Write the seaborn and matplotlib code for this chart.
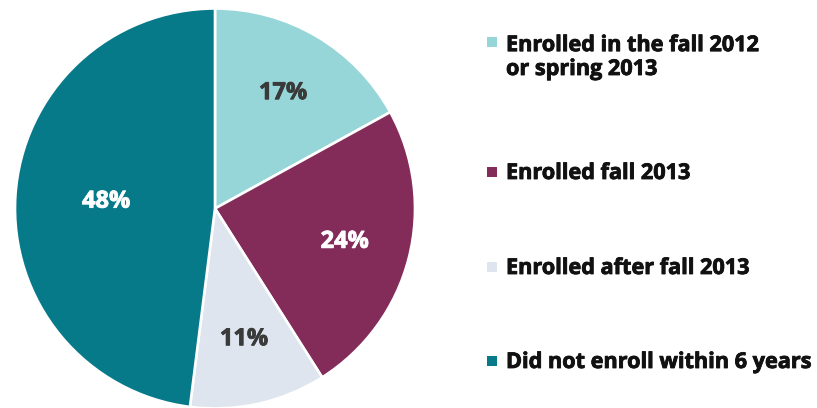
import matplotlib
matplotlib.use("Agg")
import matplotlib.pyplot as plt
from matplotlib.patches import Rectangle
import matplotlib.patheffects as pe
import seaborn as sns

# Enrollment outcomes (percent of students)
categories = [
    "Enrolled in the fall 2012\nor spring 2013",
    "Enrolled fall 2013",
    "Enrolled after fall 2013",
    "Did not enroll within 6 years",
]
shares = [17, 24, 11, 48]
slice_colors = ["#96d6d9", "#832c5a", "#dfe5ee", "#077a8a"]
label_colors = ["#3a3a3a", "#ffffff", "#3a3a3a", "#ffffff"]

sns.set_theme(style="white")
plt.rcParams["font.family"] = ["Open Sans", "DejaVu Sans"]

W, H = 817, 408
fig = plt.figure(figsize=(W / 100, H / 100), dpi=100)
fig.patch.set_facecolor("white")

# pie occupies a 400 px square centred at (215, 208.5) px from the top-left
R = 200
cx, cy = 215, H - 208.5
ax = fig.add_axes([(cx - R) / W, (cy - R) / H, 2 * R / W, 2 * R / H])

palette = sns.color_palette(slice_colors)
wedges, texts, autotexts = ax.pie(
    shares,
    colors=palette,
    startangle=90,
    counterclock=False,
    autopct="%d%%",
    pctdistance=0.67,
    wedgeprops=dict(edgecolor="white", linewidth=1.9, clip_on=False),
    textprops=dict(fontsize=17, fontweight="bold"),
)
for t, c in zip(autotexts, label_colors):
    t.set_color(c)
    t.set_path_effects([pe.withStroke(linewidth=0.6, foreground=c)])

# the largest slice carries its label closer to the centre
x, y = autotexts[3].get_position()
autotexts[3].set_position((x * 0.545 / 0.67, y * 0.545 / 0.67))

ax.set_xlim(-1, 1)
ax.set_ylim(-1, 1)
ax.set_aspect("equal")
ax.axis("off")

# legend: colour squares with bold labels (first-line baselines, px from top)
baselines = [49, 179, 274, 368]
line_step = 26
for label, color, base in zip(categories, palette, baselines):
    n_lines = label.count("\n") + 1
    fig.add_artist(Rectangle((487 / W, (H - base + 2) / H), 10 / W, 10 / H,
                             transform=fig.transFigure, color=color, lw=0))
    last_base = base + line_step * (n_lines - 1)
    txt = fig.text(506 / W, (H - last_base) / H, label, fontsize=15.6,
                   fontweight="bold", color="#111111", ha="left", va="baseline",
                   linespacing=1.18)
    txt.set_path_effects([pe.withStroke(linewidth=0.6, foreground="#111111")])

fig.savefig("out.png", dpi=100, facecolor="white")
